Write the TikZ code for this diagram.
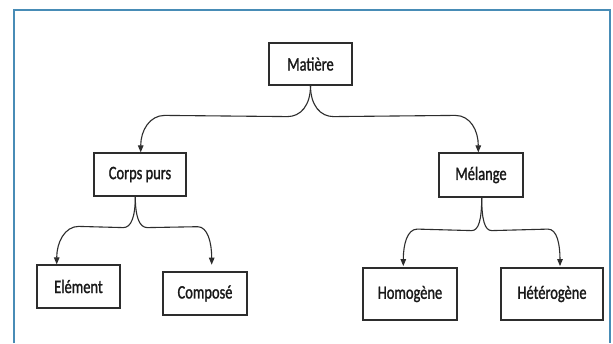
\documentclass[tikz,border=0pt]{standalone}
\usepackage{fontspec}
\setmainfont{Carlito}[FakeStretch=0.76, UprightFeatures={FakeBold=1.3}]
\usetikzlibrary{arrows.meta,calc}
\definecolor{framecol}{RGB}{72,140,182}
\definecolor{linecol}{RGB}{45,45,45}
\tikzset{
  box/.style={draw=linecol, line width=1.2pt, fill=white, inner sep=0pt,
    font=\fontsize{19}{22}\selectfont, text=black!90},
  conn/.style={draw=linecol, line width=1.1pt, -{Triangle[length=7pt,width=5.5pt]}},
}
\begin{document}
\begin{tikzpicture}[x=1pt,y=-1pt]
\useasboundingbox (0,0) rectangle (613,343);
\fill[white] (0,0) rectangle (613,343);
% frame
\draw[framecol, line width=2pt] (14,343) -- (14,9.5) -- (609.5,9.5) -- (609.5,343);

% nodes
\node[box, minimum width=83pt, minimum height=42pt] (mat) at (310.5,64) {Matière};
\node[box, minimum width=92pt, minimum height=43pt] (cp)  at (140,174.5) {Corps purs};
\node[box, minimum width=84pt, minimum height=44pt] (mel) at (481,175) {Mélange};
\node[box, minimum width=83pt, minimum height=43pt] (ele) at (78.5,286.5) {Elément};
\node[box, minimum width=84pt, minimum height=43pt] (com) at (205,293.5) {Composé};
\node[box, minimum width=94pt, minimum height=52pt] (hom) at (410,294) {Homogène};
\node[box, minimum width=102pt, minimum height=52pt] (het) at (552,294) {Hétérogène};

% arrow tips
\coordinate (tcp)  at ([xshift=0.7pt]cp.north);
\coordinate (tmel) at ([xshift=-2.7pt]mel.north);
\coordinate (tele) at ([xshift=-21.8pt]ele.north);
\coordinate (tcom) at ([xshift=6.7pt,yshift=6.7pt]com.north);
\coordinate (thom) at ([xshift=-6.7pt,yshift=1.3pt]hom.north);
\coordinate (thet) at ([xshift=8pt,yshift=1.3pt]het.north);
% brace starts
\coordinate (smat) at (mat.south);
\coordinate (scp)  at ([xshift=-4.7pt]cp.south);
\coordinate (smel) at ([xshift=0.7pt]mel.south);

% Matière -> Corps purs / Mélange
\draw[conn] (smat) .. controls +(0,20) and +(13,0) .. ++(-23,31)
  -- ($(tcp)+(24,-37)$) .. controls +(-15,0) and +(0,-22) .. (tcp);
\draw[conn] (smat) .. controls +(0,20) and +(-13,0) .. ++(23,31)
  -- ($(tmel)+(-23,-37)$) .. controls +(15,0) and +(0,-22) .. (tmel);

% Corps purs -> Elément / Composé
\draw[conn] (scp) .. controls +(0,20) and +(8,0) .. ++(-12,31)
  -- ($(tele)+(22,-38)$) .. controls +(-14,0) and +(0,-22) .. (tele);
\draw[conn] (scp) .. controls +(0,20) and +(-8,0) .. ++(12,31)
  -- ($(tcom)+(-14,-38)$) .. controls +(10,0) and +(0,-22) .. (tcom);

% Mélange -> Homogène / Hétérogène
\draw[conn] (smel) .. controls +(0,22) and +(7,0) .. ++(-10,33)
  -- ($(thom)+(14,-37)$) .. controls +(-10,0) and +(0,-22) .. (thom);
\draw[conn] (smel) .. controls +(0,22) and +(-7,0) .. ++(10,33)
  -- ($(thet)+(-12,-37)$) .. controls +(9,0) and +(0,-22) .. (thet);
\end{tikzpicture}
\end{document}
